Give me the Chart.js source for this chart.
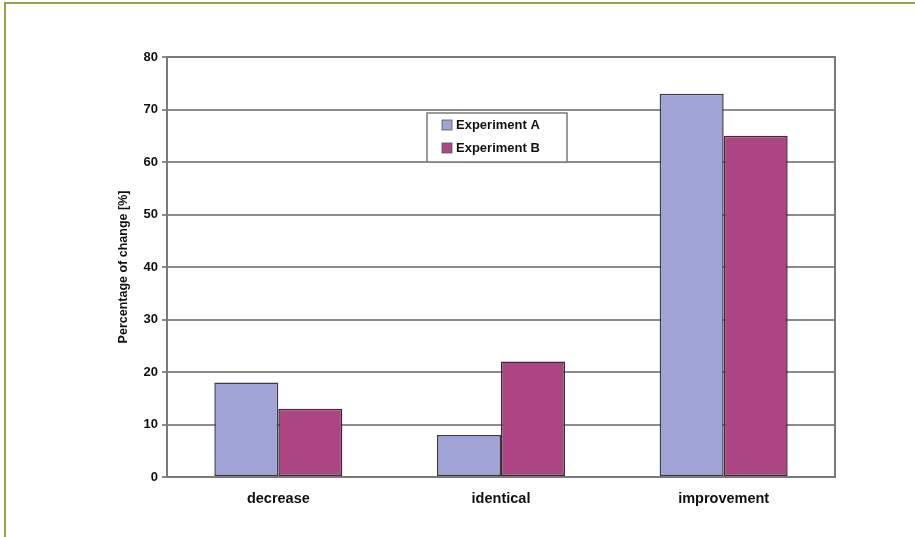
<!DOCTYPE html>
<html>
<head>
<meta charset="utf-8">
<script src="https://cdn.jsdelivr.net/npm/chart.js@4/dist/chart.umd.min.js"></script>
<style>
  html, body { margin: 0; padding: 0; background: #fff; }
  #wrap { width: 915px; height: 537px; position: relative; }
</style>
</head>
<body>
<div id="wrap"><canvas id="chart"></canvas></div>
<script>
const categories = ['decrease', 'identical', 'improvement'];
const experimentA = [18, 8, 73];
const experimentB = [13, 22, 65];
const yTicks = [0, 10, 20, 30, 40, 50, 60, 70, 80];

const fontFamily = '"Liberation Sans", Arial, sans-serif';

// frame lines and box around plot + in-plot legend
const decorations = {
  id: 'decorations',
  beforeDraw(chart) {
    const ctx = chart.ctx;
    ctx.save();
    ctx.strokeStyle = '#93a34f';
    ctx.lineWidth = 2;
    ctx.beginPath();
    ctx.moveTo(5, 537);
    ctx.lineTo(5, 3);
    ctx.lineTo(915, 3);
    ctx.stroke();
    ctx.restore();
  },
  afterDraw(chart) {
    const ctx = chart.ctx;
    const a = chart.chartArea;
    ctx.save();
    ctx.strokeStyle = '#7a7a7a';
    ctx.lineWidth = 2;
    ctx.strokeRect(a.left, a.top, a.right - a.left, a.bottom - a.top);

    // legend box
    const lx = a.left + 260, ly = a.top + 56, lw = 140, lh = 49;
    ctx.fillStyle = '#fff';
    ctx.fillRect(lx, ly, lw, lh);
    ctx.strokeStyle = '#7a7a7a';
    ctx.lineWidth = 1.5;
    ctx.strokeRect(lx, ly, lw, lh);
    ctx.font = 'bold 13px ' + fontFamily;
    ctx.textBaseline = 'middle';
    chart.data.datasets.forEach((ds, i) => {
      const y = ly + 12 + i * 23;
      ctx.fillStyle = ds.backgroundColor;
      ctx.fillRect(lx + 15, y - 5, 10, 10);
      ctx.strokeStyle = '#555';
      ctx.lineWidth = 0.8;
      ctx.strokeRect(lx + 15, y - 5, 10, 10);
      ctx.fillStyle = '#111';
      ctx.fillText(ds.label, lx + 29, y);
    });
    ctx.restore();
  }
};

new Chart(document.getElementById('chart'), {
  type: 'bar',
  data: {
    labels: categories,
    datasets: [{
      label: 'Experiment A',
      data: experimentA,
      backgroundColor: '#9fa3d6',
      borderColor: '#3a3a4a',
      borderWidth: 1.5,
      borderSkipped: false
    }, {
      label: 'Experiment B',
      data: experimentB,
      backgroundColor: '#ac4682',
      borderColor: '#3a2a33',
      borderWidth: 1.5,
      borderSkipped: false
    }]
  },
  options: {
    responsive: true,
    maintainAspectRatio: false,
    animation: false,
    layout: { padding: { left: 116, top: 57, right: 80, bottom: 0 } },
    datasets: { bar: { categoryPercentage: 0.575, barPercentage: 1 } },
    plugins: {
      legend: { display: false },
      tooltip: { enabled: false }
    },
    scales: {
      x: {
        grid: { display: false },
        border: { color: '#7a7a7a', width: 2 },
        ticks: {
          color: '#111',
          padding: 5,
          font: { family: fontFamily, size: 14.5, weight: 'bold' }
        },
        afterFit(scale) { scale.height = 60; }
      },
      y: {
        min: 0,
        max: 80,
        afterBuildTicks(scale) { scale.ticks = yTicks.map(v => ({ value: v })); },
        grid: { color: '#8c8c8c', lineWidth: 2, tickLength: 5 },
        border: { color: '#7a7a7a', width: 2 },
        ticks: {
          color: '#111',
          padding: 4,
          font: { family: fontFamily, size: 13, weight: 'bold' }
        },
        title: {
          display: true,
          text: 'Percentage of change [%]',
          color: '#111',
          padding: { top: 0, bottom: 0 },
          font: { family: fontFamily, size: 12.5, weight: 'bold' }
        },
        afterFit(scale) { scale.width = 51; }
      }
    }
  },
  plugins: [decorations]
});
</script>
</body>
</html>
